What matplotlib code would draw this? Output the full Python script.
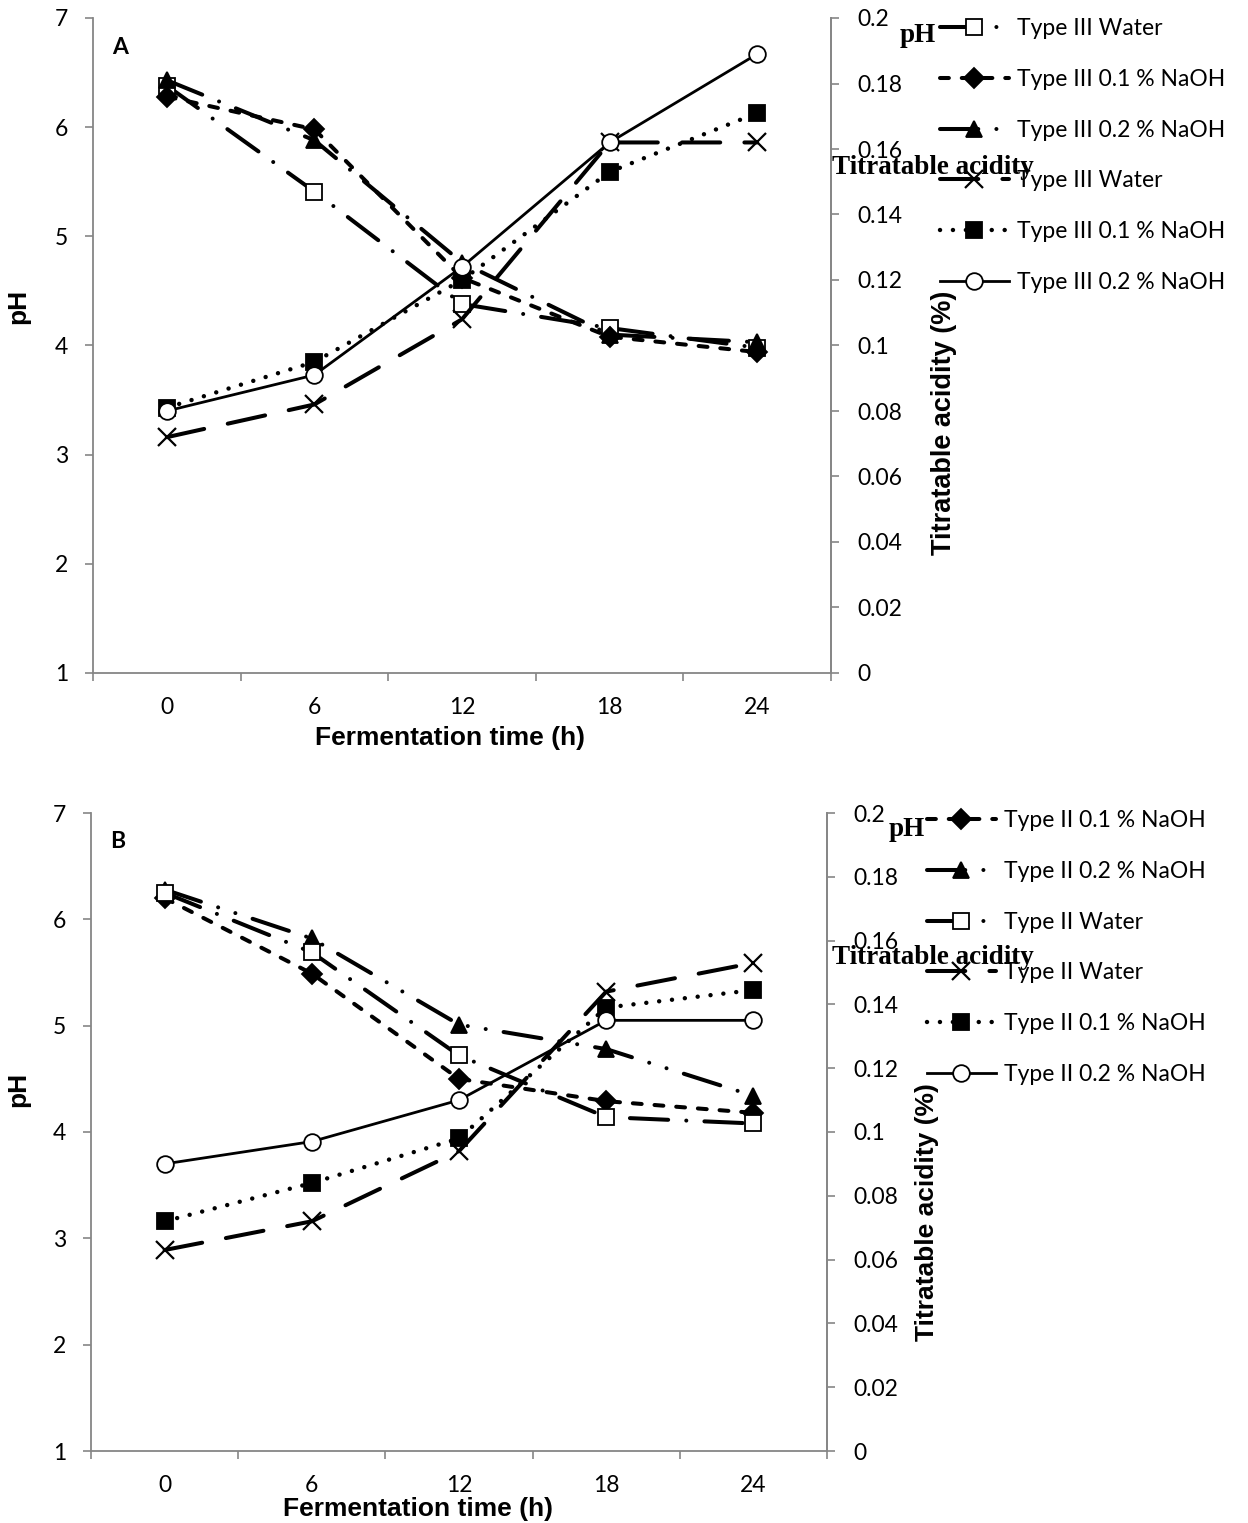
"""pH / titratable acidity during fermentation, panels A (Type III) and B (Type II)."""
import matplotlib

matplotlib.use("Agg")
import matplotlib.pyplot as plt
from matplotlib.ticker import FixedLocator, FuncFormatter

W, H = 1248, 1523
GRAY = "#868686"

plt.rcParams["font.family"] = ["Lato", "DejaVu Sans"]

time_labels = ["0", "6", "12", "18", "24"]

# panel A, Type III
ph_a_water = [6.38, 5.41, 4.38, 4.16, 3.98]
ph_a_naoh01 = [6.28, 5.98, 4.62, 4.08, 3.94]
ph_a_naoh02 = [6.43, 5.88, 4.76, 4.10, 4.03]
ta_a_water = [0.072, 0.082, 0.108, 0.162, 0.162]
ta_a_naoh01 = [0.081, 0.095, 0.120, 0.153, 0.171]
ta_a_naoh02 = [0.080, 0.091, 0.124, 0.162, 0.189]

# panel B, Type II
ph_b_naoh01 = [6.20, 5.49, 4.50, 4.29, 4.18]
ph_b_naoh02 = [6.28, 5.82, 5.01, 4.78, 4.34]
ph_b_water = [6.25, 5.69, 4.72, 4.14, 4.08]
ta_b_water = [0.063, 0.072, 0.094, 0.144, 0.153]
ta_b_naoh01 = [0.072, 0.084, 0.098, 0.139, 0.1445]
ta_b_naoh02 = [0.090, 0.097, 0.110, 0.135, 0.135]

# Excel-ish dash patterns (linewidth units, round caps)
LONG_DASH = (0, (9.5, 6))
LONG_DASH_DOT = (0, (9.5, 4.5, 0.01, 4.5))
LONG_DASH_DOT_DOT = (0, (9.5, 4.5, 0.01, 4.5, 0.01, 4.5))
DASH = (0, (2.2, 3.2))
ROUND_DOT = (0, (0.01, 2.9))

STYLE = {
    "sq_open": dict(marker="s", ms=11, mfc="white", ls=LONG_DASH_DOT, lw=2.9),
    "diamond": dict(marker="D", ms=10, mfc="black", ls=DASH, lw=2.9),
    "tri": dict(marker="^", ms=11, mfc="black", ls=LONG_DASH_DOT, lw=2.9),
    "tri_b": dict(marker="^", ms=11, mfc="black", ls=LONG_DASH_DOT_DOT, lw=2.9),
    "cross": dict(marker="x", ms=13, mfc="black", ls=LONG_DASH, lw=2.9, mew=1.6),
    "sq_fill": dict(marker="s", ms=12, mfc="black", ls=ROUND_DOT, lw=3.2),
    "circle": dict(marker="o", ms=12, mfc="white", ls="-", lw=2.0),
}


def px_rect(left, top, right, bottom):
    return [left / W, 1 - bottom / H, (right - left) / W, (bottom - top) / H]


def ta_fmt(v, _pos):
    return f"{v:.2f}".rstrip("0").rstrip(".")


def panel(fig, rect, letter, ph_series, ta_series, legend_xy, label_pos, note_pos):
    ax = fig.add_axes(rect)
    ax2 = ax.twinx()
    x = list(range(len(time_labels)))

    handles = []
    for target, series in ((ax, ph_series), (ax2, ta_series)):
        for vals, label, key in series:
            st = dict(STYLE[key])
            st.setdefault("mew", 1.3)
            (ln,) = target.plot(x, vals, color="black", mec="black", label=label,
                                dash_capstyle="round", **st)
            handles.append(ln)

    ax.set_xlim(-0.5, len(x) - 0.5)
    ax.set_ylim(1, 7)
    ax2.set_ylim(0, 0.2)
    ax.set_yticks(range(1, 8))
    ax2.yaxis.set_major_locator(FixedLocator([i * 0.02 for i in range(11)]))
    ax2.yaxis.set_major_formatter(FuncFormatter(ta_fmt))

    ax.set_xticks(x)
    ax.set_xticklabels(time_labels)
    ax.xaxis.set_minor_locator(FixedLocator([i - 0.5 for i in range(len(x) + 1)]))
    ax.tick_params(axis="x", which="major", length=0, pad=17, labelsize=16.5)
    ax.tick_params(axis="x", which="minor", length=6, color=GRAY, width=1.2)
    ax.tick_params(axis="y", length=6, color=GRAY, width=1.2, pad=12, labelsize=16.5)
    ax2.tick_params(axis="y", length=6, color=GRAY, width=1.2, pad=13, labelsize=16.5)

    for a in (ax, ax2):
        a.spines["top"].set_visible(False)
        for s in ("left", "right", "bottom"):
            a.spines[s].set_color(GRAY)
            a.spines[s].set_linewidth(1.3)
    ax2.spines["left"].set_visible(False)
    ax2.spines["bottom"].set_visible(False)

    bold = dict(family=["Liberation Sans", "DejaVu Sans"], weight="bold", fontsize=19)
    ax.set_ylabel("pH", **bold)
    ax.yaxis.set_label_coords(*label_pos["ph"])
    ax2.set_ylabel("Titratable acidity (%)", rotation=90,
                   **{**bold, "fontsize": label_pos["ta_size"]})
    ax2.yaxis.set_label_coords(*label_pos["ta"])
    ax.set_xlabel("Fermentation time (h)", **bold)
    ax.xaxis.set_label_coords(*label_pos["x"])

    ax.text(0.036, 0.955, letter, transform=ax.transAxes, fontsize=16.5,
            weight="bold", ha="center", va="center")

    fig.legend(handles, [h.get_label() for h in handles], loc="upper left",
               bbox_to_anchor=(legend_xy[0] / W, 1 - legend_xy[1] / H),
               frameon=False, fontsize=16.5, handlelength=3.0, handletextpad=0.35,
               labelspacing=1.3, borderaxespad=0, borderpad=0, numpoints=1)

    serif = dict(family=["Liberation Serif", "DejaVu Serif"], weight="bold",
                 fontsize=19.5, ha="center", va="center", zorder=10)
    fig.text(note_pos["ph"][0] / W, 1 - note_pos["ph"][1] / H, "pH", **serif)
    fig.text(note_pos["ta"][0] / W, 1 - note_pos["ta"][1] / H,
             "Titratable acidity", **serif)
    return ax, ax2


fig = plt.figure(figsize=(W / 100, H / 100), dpi=100)

panel(
    fig, px_rect(93, 18, 831, 673), "A",
    [(ph_a_water, "Type III Water", "sq_open"),
     (ph_a_naoh01, "Type III 0.1 % NaOH", "diamond"),
     (ph_a_naoh02, "Type III 0.2 % NaOH", "tri")],
    [(ta_a_water, "Type III Water", "cross"),
     (ta_a_naoh01, "Type III 0.1 % NaOH", "sq_fill"),
     (ta_a_naoh02, "Type III 0.2 % NaOH", "circle")],
    legend_xy=(940, 18),
    label_pos={"ph": (-0.085, 0.56), "ta": (1.135, 0.382), "ta_size": 19.5,
               "x": (0.484, -0.081)},
    note_pos={"ph": (918, 36), "ta": (933, 168)},
)

panel(
    fig, px_rect(91, 813, 827, 1451), "B",
    [(ph_b_naoh01, "Type II 0.1 % NaOH", "diamond"),
     (ph_b_naoh02, "Type II 0.2 % NaOH", "tri_b"),
     (ph_b_water, "Type II Water", "sq_open")],
    [(ta_b_water, "Type II Water", "cross"),
     (ta_b_naoh01, "Type II 0.1 % NaOH", "sq_fill"),
     (ta_b_naoh02, "Type II 0.2 % NaOH", "circle")],
    legend_xy=(927, 810),
    label_pos={"ph": (-0.083, 0.566), "ta": (1.12, 0.375), "ta_size": 19,
               "x": (0.444, -0.072)},
    note_pos={"ph": (907, 829), "ta": (933, 958)},
)

fig.savefig("out.png", dpi=100)
